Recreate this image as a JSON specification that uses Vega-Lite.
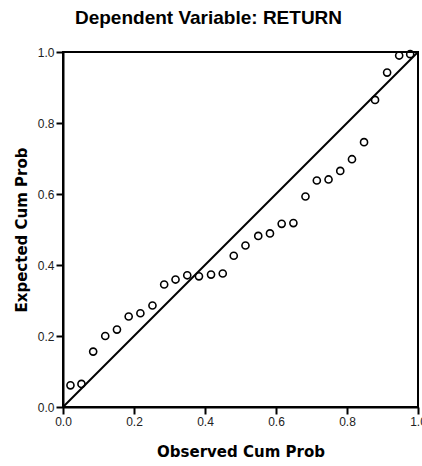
{
  "$schema": "https://vega.github.io/schema/vega-lite/v6.json",
  "width": 355,
  "height": 355,
  "autosize": "none",
  "padding": {"left": 63, "top": 52, "right": 4, "bottom": 59},
  "background": "white",
  "title": {
    "text": "Dependent Variable: RETURN",
    "font": "Liberation Sans",
    "fontSize": 19,
    "fontWeight": "bold",
    "color": "black",
    "anchor": "middle",
    "dx": -32,
    "offset": 18
  },
  "config": {
    "view": {"stroke": "black", "strokeWidth": 2},
    "axis": {
      "grid": false,
      "domainColor": "black",
      "domainWidth": 2,
      "tickColor": "black",
      "tickWidth": 2,
      "tickSize": 7,
      "labelFont": "Liberation Sans",
      "labelFontSize": 12,
      "labelColor": "#222222",
      "labelPadding": 2,
      "labelFlush": false,
      "labelOverlap": false,
      "titleFont": "DejaVu Sans",
      "titleFontSize": 15,
      "titleFontWeight": "bold",
      "titleColor": "black"
    }
  },
  "datasets": {
    "pts": [
      {"obs": 0.021, "exp": 0.061},
      {"obs": 0.052, "exp": 0.065},
      {"obs": 0.085, "exp": 0.156},
      {"obs": 0.119, "exp": 0.200},
      {"obs": 0.152, "exp": 0.218},
      {"obs": 0.185, "exp": 0.255},
      {"obs": 0.218, "exp": 0.264},
      {"obs": 0.252, "exp": 0.286},
      {"obs": 0.285, "exp": 0.345},
      {"obs": 0.317, "exp": 0.359},
      {"obs": 0.350, "exp": 0.371},
      {"obs": 0.383, "exp": 0.368},
      {"obs": 0.417, "exp": 0.373},
      {"obs": 0.450, "exp": 0.376},
      {"obs": 0.481, "exp": 0.426},
      {"obs": 0.514, "exp": 0.455},
      {"obs": 0.550, "exp": 0.482},
      {"obs": 0.583, "exp": 0.489},
      {"obs": 0.616, "exp": 0.516},
      {"obs": 0.649, "exp": 0.518},
      {"obs": 0.683, "exp": 0.593},
      {"obs": 0.715, "exp": 0.638},
      {"obs": 0.748, "exp": 0.641},
      {"obs": 0.781, "exp": 0.665},
      {"obs": 0.814, "exp": 0.698},
      {"obs": 0.848, "exp": 0.746},
      {"obs": 0.879, "exp": 0.865},
      {"obs": 0.913, "exp": 0.942},
      {"obs": 0.947, "exp": 0.990},
      {"obs": 0.978, "exp": 0.994}
    ],
    "diag": [
      {"obs": 0, "exp": 0},
      {"obs": 1, "exp": 1}
    ]
  },
  "layer": [
    {
      "data": {"name": "diag"},
      "mark": {"type": "line", "color": "black", "strokeWidth": 2},
      "encoding": {
        "x": {"field": "obs", "type": "quantitative"},
        "y": {"field": "exp", "type": "quantitative"}
      }
    },
    {
      "data": {"name": "pts"},
      "mark": {"type": "point", "shape": "circle", "filled": false, "stroke": "black", "strokeWidth": 1.6, "size": 50, "opacity": 1},
      "encoding": {
        "x": {
          "field": "obs", "type": "quantitative",
          "scale": {"domain": [0, 1], "nice": false},
          "axis": {"title": "Observed Cum Prob", "values": [0, 0.2, 0.4, 0.6, 0.8, 1.0], "format": ".1f", "titlePadding": 17}
        },
        "y": {
          "field": "exp", "type": "quantitative",
          "scale": {"domain": [0, 1], "nice": false},
          "axis": {"title": "Expected Cum Prob", "values": [0, 0.2, 0.4, 0.6, 0.8, 1.0], "format": ".1f", "titlePadding": 8}
        }
      }
    }
  ]
}
